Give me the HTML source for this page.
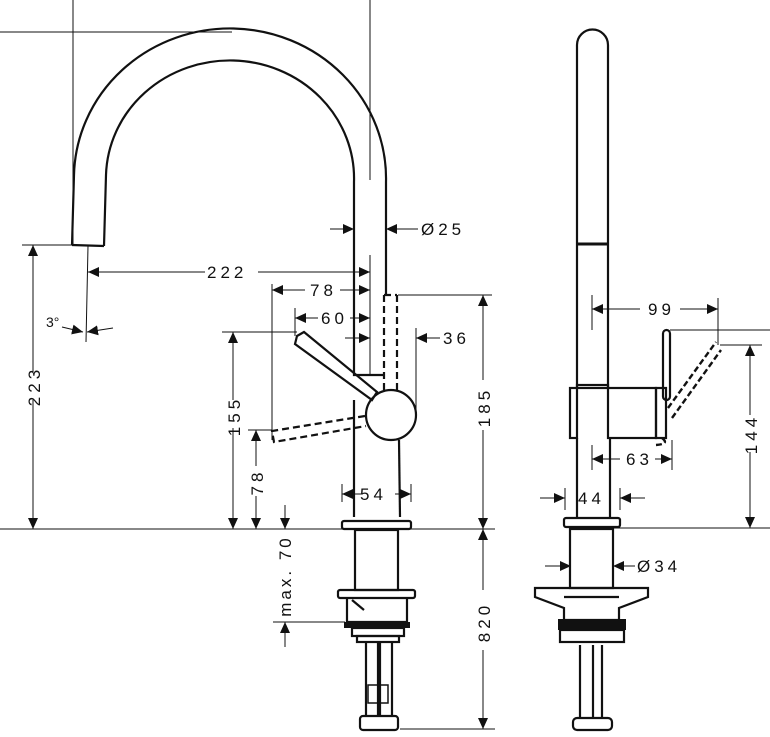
<!DOCTYPE html>
<html><head><meta charset="utf-8"><style>
html,body{margin:0;padding:0;background:#fff}
svg{display:block}
text{font-family:"Liberation Sans",sans-serif;font-size:17px;fill:#111;letter-spacing:4px}
</style></head><body>
<svg width="770" height="737" viewBox="0 0 770 737" xmlns="http://www.w3.org/2000/svg">
<defs>
<marker id="a" markerUnits="userSpaceOnUse" markerWidth="12" markerHeight="10" refX="11" refY="5" orient="auto"><path d="M0,0 L11,5 L0,10 z" fill="#111"/></marker>
</defs>
<g fill="none" stroke="#111" stroke-width="1">
<line x1="0" y1="32" x2="232" y2="32"/>
<line x1="73" y1="0" x2="73" y2="245"/>
<line x1="370" y1="0" x2="370" y2="180"/>
<line x1="370" y1="255" x2="370" y2="375"/>
<line x1="22" y1="245" x2="72" y2="245"/>
<line x1="88" y1="246" x2="86" y2="342"/>
<line x1="272" y1="284" x2="272" y2="440"/>
<line x1="295" y1="308" x2="295" y2="336"/>
<line x1="222" y1="332" x2="297" y2="332"/>
<line x1="248" y1="430" x2="272" y2="430"/>
<line x1="416" y1="328" x2="416" y2="415"/>
<line x1="398" y1="295" x2="492" y2="295"/>
<line x1="0" y1="529" x2="495" y2="529"/>
<line x1="273" y1="622" x2="345" y2="622"/>
<line x1="400" y1="729" x2="495" y2="729"/>
<line x1="342" y1="484" x2="342" y2="502"/>
<line x1="411" y1="484" x2="411" y2="502"/>
<line x1="612" y1="528" x2="770" y2="528"/>
<line x1="592" y1="295" x2="592" y2="330"/>
<line x1="718" y1="298" x2="718" y2="345"/>
<line x1="670" y1="330" x2="770" y2="330"/>
<line x1="720" y1="345" x2="762" y2="345"/>
<line x1="592" y1="445" x2="592" y2="470"/>
<line x1="672" y1="440" x2="672" y2="470"/>
<line x1="565" y1="488" x2="565" y2="510"/>
<line x1="620" y1="488" x2="620" y2="510"/>
<line x1="33" y1="372" x2="33" y2="245" marker-end="url(#a)"/>
<line x1="33" y1="400" x2="33" y2="529" marker-end="url(#a)"/>
<line x1="205" y1="272" x2="88" y2="272" marker-end="url(#a)"/>
<line x1="258" y1="272" x2="370" y2="272" marker-end="url(#a)"/>
<line x1="305" y1="290" x2="272" y2="290" marker-end="url(#a)"/>
<line x1="340" y1="290" x2="370" y2="290" marker-end="url(#a)"/>
<line x1="318" y1="318" x2="295" y2="318" marker-end="url(#a)"/>
<line x1="350" y1="318" x2="370" y2="318" marker-end="url(#a)"/>
<line x1="345" y1="338" x2="370" y2="338" marker-end="url(#a)"/>
<line x1="440" y1="338" x2="416" y2="338" marker-end="url(#a)"/>
<line x1="330" y1="229" x2="354" y2="229" marker-end="url(#a)"/>
<line x1="418" y1="229" x2="386" y2="229" marker-end="url(#a)"/>
<line x1="62" y1="327" x2="83" y2="332" marker-end="url(#a)"/>
<line x1="113" y1="328" x2="87" y2="332" marker-end="url(#a)"/>
<line x1="233" y1="400" x2="233" y2="332" marker-end="url(#a)"/>
<line x1="233" y1="428" x2="233" y2="529" marker-end="url(#a)"/>
<line x1="256" y1="466" x2="256" y2="430" marker-end="url(#a)"/>
<line x1="256" y1="496" x2="256" y2="529" marker-end="url(#a)"/>
<line x1="285" y1="505" x2="285" y2="529" marker-end="url(#a)"/>
<line x1="285" y1="647" x2="285" y2="622" marker-end="url(#a)"/>
<line x1="483" y1="380" x2="483" y2="295" marker-end="url(#a)"/>
<line x1="483" y1="430" x2="483" y2="529" marker-end="url(#a)"/>
<line x1="483" y1="590" x2="483" y2="529" marker-end="url(#a)"/>
<line x1="483" y1="650" x2="483" y2="729" marker-end="url(#a)"/>
<line x1="362" y1="494" x2="342" y2="494" marker-end="url(#a)"/>
<line x1="395" y1="494" x2="411" y2="494" marker-end="url(#a)"/>
<line x1="640" y1="309" x2="592" y2="309" marker-end="url(#a)"/>
<line x1="680" y1="309" x2="718" y2="309" marker-end="url(#a)"/>
<line x1="750" y1="415" x2="750" y2="345" marker-end="url(#a)"/>
<line x1="750" y1="452" x2="750" y2="528" marker-end="url(#a)"/>
<line x1="620" y1="459" x2="592" y2="459" marker-end="url(#a)"/>
<line x1="655" y1="459" x2="672" y2="459" marker-end="url(#a)"/>
<line x1="540" y1="498" x2="565" y2="498" marker-end="url(#a)"/>
<line x1="645" y1="498" x2="620" y2="498" marker-end="url(#a)"/>
<line x1="545" y1="566" x2="571" y2="566" marker-end="url(#a)"/>
<line x1="635" y1="566" x2="613" y2="566" marker-end="url(#a)"/>
</g>
<g fill="none" stroke="#111" stroke-width="2.2">
<path d="M72,245 L74,175 A156,150 0 0 1 386,182 L386,295"/>
<path d="M104,246 L106,175 A124,118 0 0 1 354,182 L354,375 L384,375"/>
<path d="M72,245 L104,246"/>
<path d="M354,400 L354,517"/>
<path d="M399,440 L400,517"/>
<circle cx="391" cy="415" r="25"/>
<path d="M297,336 L304,332 L377,392 L372,400 L295,344 Z"/>
<rect x="342" y="521" width="69" height="8" rx="2"/>
<rect x="355" y="530" width="43" height="60"/>
<rect x="338" y="590" width="77" height="8" rx="2"/>
<path d="M347,598 L347,622 L407,622 L407,598"/>
<path d="M352,600 L364,610"/>
<rect x="352" y="628" width="52" height="8"/>
<rect x="357" y="636" width="42" height="6"/>
<line x1="366" y1="642" x2="366" y2="715"/>
<line x1="378" y1="642" x2="378" y2="715"/>
<line x1="380" y1="642" x2="380" y2="715"/>
<line x1="392" y1="642" x2="392" y2="715"/>
<rect x="360" y="716" width="38" height="14" rx="3"/>
</g>
<g fill="none" stroke="#111" stroke-width="2.2" stroke-dasharray="7,4">
<path d="M384,295 L397,295 M384,295 L384,390 M397,295 L397,390"/>
<path d="M365,416 L272,431 L274,442 L366,426"/>
</g>
<rect x="344" y="622" width="66" height="6" fill="#111"/>
<rect x="368" y="685" width="20" height="18" fill="none" stroke="#111" stroke-width="1.5"/>
<g fill="none" stroke="#111" stroke-width="2.2">
<path d="M577,388 L577,45 A15.5,15.5 0 0 1 608,45 L608,388"/>
<line x1="577" y1="244" x2="608" y2="244" stroke-width="3"/>
<rect x="577" y="385" width="31" height="3"/>
<rect x="608" y="388" width="48" height="50"/>
<rect x="656" y="388" width="10" height="50"/>
<rect x="570" y="388" width="7" height="50"/>
<rect x="663" y="330" width="7" height="70" rx="3.5"/>
<path d="M577,438 L577,518 M610,438 L610,518"/>
<rect x="564" y="518" width="56" height="9" rx="2"/>
<rect x="570" y="529" width="43" height="59"/>
<path d="M535,588 L648,588 L648,597 L619,608 L619,620 L564,620 L564,608 L535,597 Z"/>
<line x1="564" y1="597" x2="619" y2="597"/>
<line x1="580" y1="645" x2="580" y2="718"/>
<line x1="593" y1="645" x2="593" y2="718"/>
<line x1="602" y1="645" x2="602" y2="718"/>
<rect x="560" y="630" width="64" height="12"/>
<rect x="573" y="718" width="39" height="12" rx="4"/>
</g>
<rect x="558" y="619" width="68" height="11" fill="#111"/>
<g fill="none" stroke="#111" stroke-width="2.4" stroke-dasharray="6,3">
<path d="M668,408 L716,342 M672,418 L721,350 M662,438 Q670,444 656,445"/>
</g>
<text x="207" y="278">222</text>
<text x="310" y="296">78</text>
<text x="321" y="324">60</text>
<text x="443" y="344">36</text>
<text x="421" y="235">Ø25</text>
<text x="360" y="500">54</text>
<text x="46" y="327" style="font-size:14px;letter-spacing:0">3°</text>
<text x="648" y="315">99</text>
<text x="626" y="465">63</text>
<text x="578" y="504">44</text>
<text x="637" y="572">Ø34</text>
<text transform="translate(40,386) rotate(-90)" text-anchor="middle">223</text>
<text transform="translate(240,416) rotate(-90)" text-anchor="middle">155</text>
<text transform="translate(263,482) rotate(-90)" text-anchor="middle">78</text>
<text transform="translate(291,576) rotate(-90)" text-anchor="middle" style="letter-spacing:3px">max. 70</text>
<text transform="translate(490,407) rotate(-90)" text-anchor="middle">185</text>
<text transform="translate(490,622) rotate(-90)" text-anchor="middle">820</text>
<text transform="translate(757,434) rotate(-90)" text-anchor="middle">144</text>
</svg>
</body></html>
